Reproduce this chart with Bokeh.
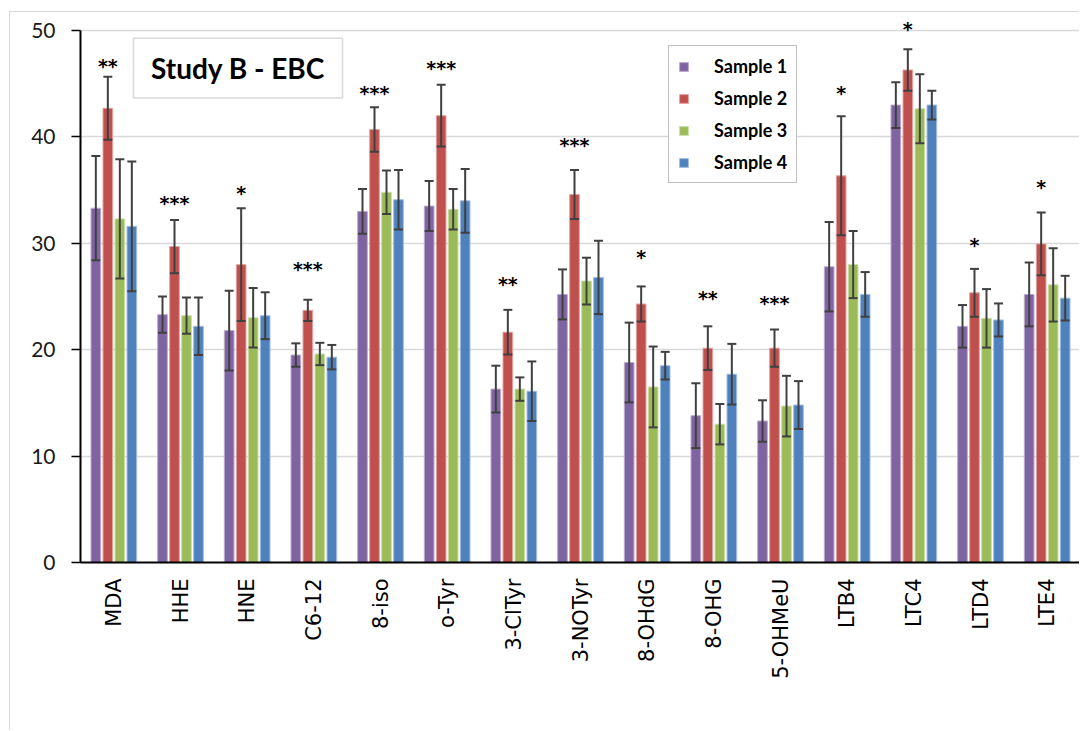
import numpy as np
from bokeh.plotting import figure
from bokeh.models import (ColumnDataSource, Range1d, FixedTicker, Whisker, TeeHead,
                          Legend, LegendItem, BoxAnnotation, Label)
from bokeh.core.properties import value
from bokeh.embed import file_html
from bokeh.resources import INLINE

# ---------------- data ----------------
categories = ["MDA", "HHE", "HNE", "C6-12", "8-iso", "o-Tyr", "3-ClTyr", "3-NOTyr",
              "8-OHdG", "8-OHG", "5-OHMeU", "LTB4", "LTC4", "LTD4", "LTE4"]
samples = ["Sample 1", "Sample 2", "Sample 3", "Sample 4"]

s1_mean = [33.3, 23.3, 21.8, 19.5, 33.0, 33.5, 16.3, 25.2, 18.8, 13.8, 13.3, 27.8, 43.0, 22.2, 25.2]
s1_err = [4.9, 1.7, 3.75, 1.1, 2.1, 2.35, 2.2, 2.35, 3.75, 3.05, 1.95, 4.2, 2.15, 2.0, 3.0]
s2_mean = [42.7, 29.7, 28.0, 23.7, 40.7, 42.0, 21.65, 34.6, 24.3, 20.15, 20.15, 36.35, 46.3, 25.35, 29.95]
s2_err = [2.95, 2.5, 5.3, 1.0, 2.1, 2.9, 2.1, 2.3, 1.65, 2.05, 1.75, 5.6, 1.95, 2.25, 2.95]
s3_mean = [32.3, 23.2, 23.0, 19.6, 34.8, 33.2, 16.3, 26.45, 16.5, 13.0, 14.7, 28.0, 42.65, 22.95, 26.1]
s3_err = [5.6, 1.7, 2.8, 1.05, 2.05, 1.9, 1.1, 2.2, 3.8, 1.9, 2.85, 3.15, 3.25, 2.75, 3.45]
s4_mean = [31.6, 22.2, 23.2, 19.3, 34.1, 34.0, 16.1, 26.8, 18.5, 17.7, 14.8, 25.2, 43.0, 22.8, 24.85]
s4_err = [6.1, 2.7, 2.2, 1.15, 2.8, 3.0, 2.8, 3.45, 1.3, 2.85, 2.25, 2.1, 1.35, 1.55, 2.1]

stars = ["**", "***", "*", "***", "***", "***", "**", "***", "*", "**", "***", "*", "*", "*", "*"]
star_y = [46.8, 33.85, 34.8, 27.7, 44.2, 46.55, 26.3, 39.3, 28.8, 25.0, 24.5, 44.2, 50.2, 29.9, 35.4]

y_ticks = [0, 10, 20, 30, 40, 50]
title_text = "Study B - EBC"

# ---------------- styling ----------------
colors = ["#8064A2", "#C0504D", "#9BBB59", "#4F81BD"]
edges = ["#b9abcf", "#e0a3a1", "#cadda8", "#a3bde0"]
offsets = [-0.27, -0.09, 0.09, 0.27]
BAR_W = 0.145
ERR_C = "#404040"

means = [s1_mean, s2_mean, s3_mean, s4_mean]
errs = [s1_err, s2_err, s3_err, s4_err]
n = len(categories)
centers = np.arange(n) + 0.5

p = figure(width=1070, height=719, output_backend="svg", toolbar_location=None,
           x_range=Range1d(0, 15.0), y_range=Range1d(0, 51.7),
           min_border_left=70, min_border_right=0, min_border_top=0, min_border_bottom=169)
p.margin = (11, 0, 0, 9)
p.styles = {"border-top": "1px solid #d9d9d9", "border-left": "1px solid #d9d9d9"}
p.outline_line_color = None
p.background_fill_color = "white"
p.border_fill_color = "white"

p.xgrid.visible = False
p.ygrid.ticker = FixedTicker(ticks=y_ticks)
p.ygrid.grid_line_color = "#d9d9d9"
p.ygrid.grid_line_width = 1.5

p.yaxis.ticker = FixedTicker(ticks=y_ticks)
p.yaxis.bounds = (0, 50)
p.yaxis.axis_line_color = "black"
p.yaxis.axis_line_width = 2
p.yaxis.major_tick_out = 9
p.yaxis.major_tick_in = 0
p.yaxis.major_tick_line_width = 1.5
p.yaxis.minor_tick_out = 0
p.yaxis.minor_tick_in = 0
p.yaxis.major_label_standoff = 16
p.yaxis.major_label_text_font = "Lato"
p.yaxis.major_label_text_font_size = "21px"
p.yaxis.major_label_text_color = "#1a1a1a"

p.xaxis.ticker = FixedTicker(ticks=list(centers))
p.xaxis.major_label_overrides = {float(c): cat for c, cat in zip(centers, categories)}
p.xaxis.major_label_orientation = np.pi / 2
p.xaxis.axis_line_color = "black"
p.xaxis.axis_line_width = 2
p.xaxis.major_tick_out = 0
p.xaxis.major_tick_in = 0
p.xaxis.minor_tick_out = 0
p.xaxis.minor_tick_in = 0
p.xaxis.major_label_standoff = 16
p.xaxis.major_label_text_font = "DejaVu Sans"
p.xaxis.major_label_text_font_size = "21px"
p.xaxis.major_label_text_color = "black"

items = []
for k in range(4):
    m = np.array(means[k])
    e = np.array(errs[k])
    src = ColumnDataSource(dict(x=centers + offsets[k], top=m, upper=m + e, lower=m - e))
    r = p.vbar(x="x", top="top", bottom=0, width=BAR_W, source=src,
               fill_color=colors[k], line_color=edges[k], line_width=1)
    w = Whisker(base="x", upper="upper", lower="lower", source=src, dimension="height",
                line_color=ERR_C, line_width=2,
                upper_head=TeeHead(size=9, line_color=ERR_C, line_width=2),
                lower_head=TeeHead(size=9, line_color=ERR_C, line_width=2))
    w.level = "annotation"
    p.add_layout(w)
    items.append(LegendItem(label=samples[k], renderers=[r]))

# significance stars above Sample 2 bars
star_src = ColumnDataSource(dict(x=centers + offsets[1], y=star_y, text=stars))
p.text(x="x", y="y", text="text", source=star_src, text_align="center",
       text_baseline="middle", y_offset=1, text_font=value("DejaVu Sans"),
       text_font_style="bold", text_font_size="19px", text_color="black")

# title box
p.add_layout(BoxAnnotation(left=0.795, right=3.93, top=49.28, bottom=43.67,
                           fill_color="white", fill_alpha=1.0,
                           line_color="#808080", line_width=1.5, level="annotation"))
p.add_layout(Label(x=2.362, y=46.47, text=title_text, text_align="center",
                   text_baseline="middle", text_font="Lato", text_font_style="bold",
                   text_font_size="28px", text_color="black"))

legend = Legend(items=items, location=(588, 379), orientation="vertical",
                border_line_color="#7f7f7f", border_line_width=1.5,
                background_fill_color="white", background_fill_alpha=1.0,
                label_text_font="Lato", label_text_font_style="bold",
                label_text_font_size="18px", label_text_color="black",
                glyph_width=11, glyph_height=11, label_height=18, spacing=10,
                padding=9, label_standoff=25, margin=0)
p.add_layout(legend)

open("out.html", "w").write(file_html(p, INLINE, title="Study B - EBC"))
